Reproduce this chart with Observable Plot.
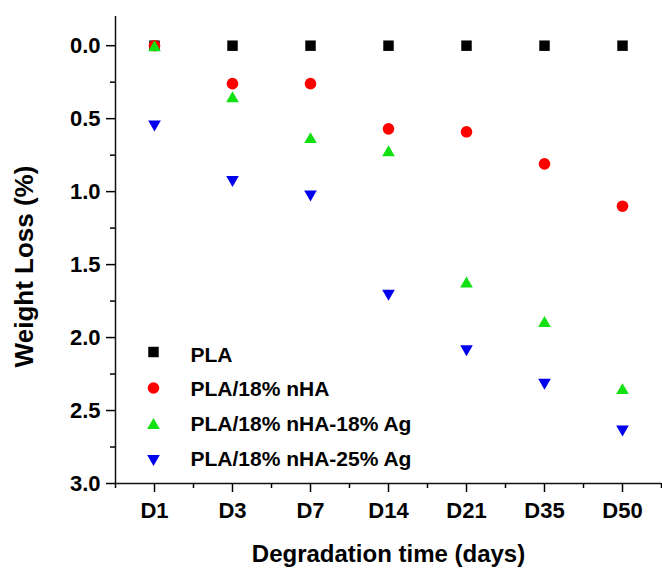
<!DOCTYPE html>
<html>
<head>
<meta charset="utf-8">
<script src="https://cdn.jsdelivr.net/npm/d3@7"></script>
<script src="https://cdn.jsdelivr.net/npm/@observablehq/plot@0.6"></script>
<style>
  html, body { margin: 0; padding: 0; background: #fff; }
  #chart { width: 662px; height: 568px; }
</style>
</head>
<body>
<div id="chart"></div>
<script>
// ---- data ----
const days = ["D1", "D3", "D7", "D14", "D21", "D35", "D50"];
const seriesNames = ["PLA", "PLA/18% nHA", "PLA/18% nHA-18% Ag", "PLA/18% nHA-25% Ag"];
const pla   = [0, 0, 0, 0, 0, 0, 0];
const nha   = [0, 0.26, 0.26, 0.57, 0.59, 0.81, 1.10];
const ag18  = [0, 0.35, 0.63, 0.72, 1.62, 1.89, 2.35];
const ag25  = [0.55, 0.93, 1.03, 1.71, 2.09, 2.32, 2.64];
const yTicks = [0.0, 0.5, 1.0, 1.5, 2.0, 2.5, 3.0];
const yMinor = [0.25, 0.75, 1.25, 1.75, 2.25, 2.75];
const xMinor = [0.5, 1.5, 2.5, 3.5, 4.5, 5.5, 6.5, 7.5];
const xTitle = "Degradation time (days)";
const yTitle = "Weight Loss (%)";

// ---- styling ----
const colors = ["#000000", "#ff0000", "#11e011", "#0000ee"];
const triUp = {
  draw(ctx, size) {
    const s = Math.sqrt(4 * size / Math.sqrt(3)), h = s * Math.sqrt(3) / 2;
    ctx.moveTo(0, -h / 2); ctx.lineTo(s / 2, h / 2); ctx.lineTo(-s / 2, h / 2); ctx.closePath();
  }
};
const triDown = {
  draw(ctx, size) {
    const s = Math.sqrt(4 * size / Math.sqrt(3)), h = s * Math.sqrt(3) / 2;
    ctx.moveTo(0, h / 2); ctx.lineTo(s / 2, -h / 2); ctx.lineTo(-s / 2, -h / 2); ctx.closePath();
  }
};
const symbols = ["square", "circle", triUp, triDown];
const radii = [5.9, 5.8, 4.7, 4.7];
const seriesVals = [pla, nha, ag18, ag25];

const rows = (vals, s) => vals.map((v, i) => ({x: i + 1, y: v, s}));

const legendMarkY = [351.5 - 16, 387.5 - 16, 423 - 16, 460 - 16];
const legendTextY = [355 - 16, 388.5 - 16, 424 - 16, 458.5 - 16];
const font = "Liberation Sans, Arial, Helvetica, sans-serif";

const marks = [
  Plot.axisY(yTicks, {tickSize: 9, tickPadding: 6, tickFormat: d => d.toFixed(1),
    fontSize: 22, fontWeight: "bold", strokeWidth: 1.5, label: null}),
  Plot.axisY(yMinor, {tickSize: 5, tickFormat: () => "", strokeWidth: 1.5, label: null}),
  Plot.axisX(days.map((d, i) => i + 1), {tickSize: 9, tickPadding: 10, tickFormat: d => days[d - 1],
    fontSize: 22, fontWeight: "bold", strokeWidth: 1.5, label: null}),
  Plot.axisX(xMinor, {tickSize: 5, tickFormat: () => "", strokeWidth: 1.5, label: null}),
  Plot.ruleX([0.5], {strokeWidth: 1.5, stroke: "#111"}),
  Plot.ruleY([3.0], {strokeWidth: 1.5, stroke: "#111"}),
  Plot.text([xTitle], {text: d => d, frameAnchor: "bottom", lineAnchor: "middle", dy: 71, fontSize: 24, fontWeight: "bold", fill: "#000"}),
  Plot.text([yTitle], {text: d => d, frameAnchor: "left", textAnchor: "middle", lineAnchor: "middle", rotate: -90, dx: -91, dy: 16.5, fontSize: 26, fontWeight: "bold", fill: "#000"})
];

seriesVals.forEach((vals, k) => {
  marks.push(Plot.dot(rows(vals, seriesNames[k]), {x: "x", y: "y", symbol: symbols[k], r: radii[k], fill: colors[k], stroke: "none"}));
});

seriesNames.forEach((name, k) => {
  marks.push(Plot.dot([name], {frameAnchor: "top-left", dx: 38, dy: legendMarkY[k], symbol: symbols[k], r: radii[k], fill: colors[k], stroke: "none"}));
  marks.push(Plot.text([name], {text: d => d, frameAnchor: "top-left", dx: 75, dy: legendTextY[k], textAnchor: "start", lineAnchor: "middle", fontSize: 21, fontWeight: "bold", fill: "#000"}));
});

const chart = Plot.plot({
  width: 662, height: 568,
  marginLeft: 115, marginRight: 1, marginTop: 16, marginBottom: 85,
  style: {fontFamily: font, background: "#fff", color: "#000", overflow: "visible"},
  x: {type: "linear", domain: [0.5, 7.5], label: null},
  y: {domain: [-0.2, 3.0], reverse: true, label: null},
  marks
});
document.getElementById("chart").appendChild(chart);
</script>
</body>
</html>
